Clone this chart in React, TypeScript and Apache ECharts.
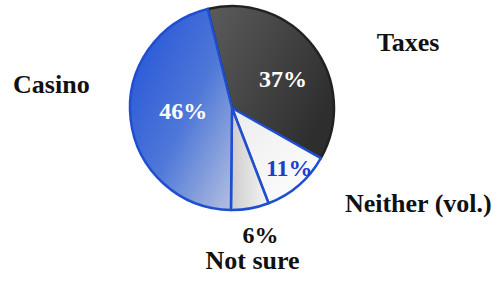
import React, { useEffect, useRef } from "react";
import * as echarts from "echarts";

const categories = ["Taxes", "Neither (vol.)", "Not sure", "Casino"];
const values = [37, 11, 6, 46];

const FONT = "Liberation Serif";

const fills = [
  new echarts.graphic.LinearGradient(0, 0, 1, 0.6, [
    { offset: 0, color: "#5c5c5c" },
    { offset: 1, color: "#2e2e2e" },
  ]),
  new echarts.graphic.LinearGradient(0, 0, 1, 1, [
    { offset: 0, color: "#ececec" },
    { offset: 1, color: "#ffffff" },
  ]),
  new echarts.graphic.LinearGradient(0, 0, 1, 0, [
    { offset: 0, color: "#cccccc" },
    { offset: 1, color: "#f6f6f6" },
  ]),
  new echarts.graphic.LinearGradient(0, 0, 1, 1, [
    { offset: 0, color: "#1f50d8" },
    { offset: 0.55, color: "#4f78d8" },
    { offset: 1, color: "#b4c0e0" },
  ]),
];
const borders = ["#222222", "#1f4fd0", "#1f4fd0", "#1f4fd0"];
const pctColors = ["#ffffff", "#1a40c8", "#111111", "#ffffff"];
const pctOffsets = [[8, 4], [22, 19], [19, 74], [5, -3]];
const nameOffsets = [[133, -33], [151, 55], [11, 99], [-127, -30]];

export default function App() {
  const ref = useRef<HTMLDivElement>(null);
  useEffect(() => {
    if (!ref.current) return;
    const chart = echarts.init(ref.current, undefined, { renderer: "svg" });
    const pieBase = {
      type: "pie",
      center: [232, 108],
      radius: 102,
      startAngle: 103.8,
      clockwise: true,
      avoidLabelOverlap: false,
      labelLine: { show: false },
      emphasis: { disabled: true },
      silent: true,
    };
    chart.setOption({
      animation: false,
      backgroundColor: "#ffffff",
      series: [
        {
          ...pieBase,
          data: categories.map((name, i) => ({
            name,
            value: values[i],
            itemStyle: { color: fills[i], borderColor: borders[i], borderWidth: 2.5 },
            label: {
              show: true,
              position: "inside",
              formatter: "{c}%",
              color: pctColors[i],
              fontFamily: FONT,
              fontWeight: "bold",
              fontSize: 24,
              offset: pctOffsets[i],
            },
          })),
        },
        {
          ...pieBase,
          z: 3,
          data: categories.map((name, i) => ({
            name,
            value: values[i],
            itemStyle: { color: "transparent", borderWidth: 0 },
            label: {
              show: true,
              position: "inside",
              formatter: "{b}",
              color: "#111111",
              fontFamily: FONT,
              fontWeight: "bold",
              fontSize: 26,
              offset: nameOffsets[i],
            },
          })),
        },
      ],
    });
    return () => chart.dispose();
  }, []);
  return (
    <div
      ref={ref}
      style={{ position: "absolute", left: 0, top: 0, width: 503, height: 283 }}
    />
  );
}
